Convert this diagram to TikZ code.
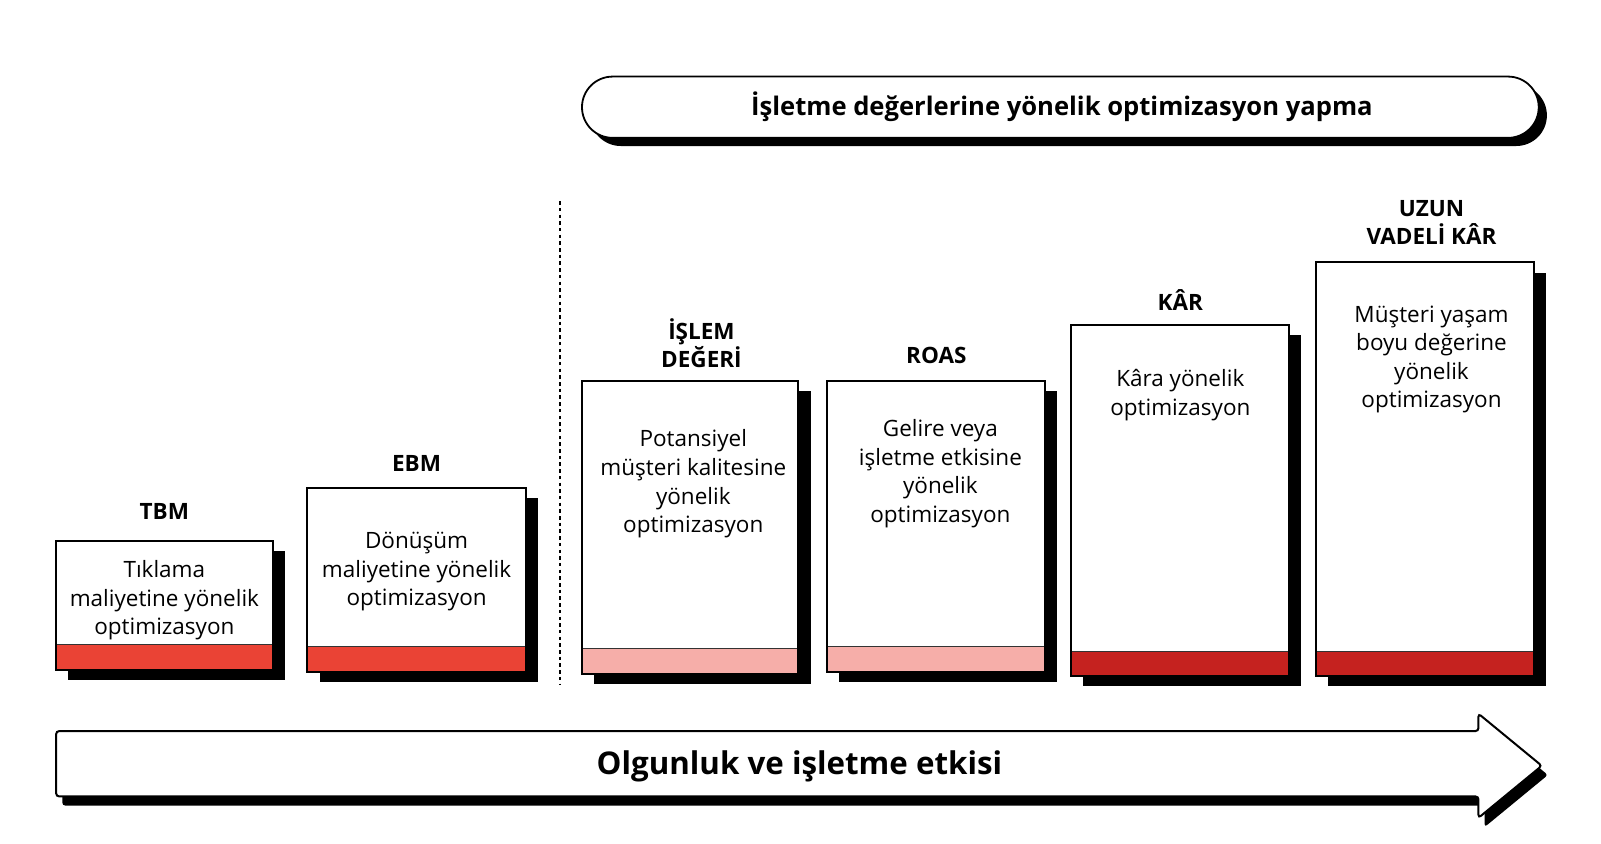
\documentclass[tikz,border=0pt]{standalone}
\usepackage{fontspec}
\setmainfont{Open Sans}
\usetikzlibrary{fit}
\definecolor{bandred}{HTML}{EA4335}
\definecolor{bandpink}{HTML}{F6AEA9}
\definecolor{banddark}{HTML}{C5221F}
\tikzset{
  stageframe/.style={draw=black, line width=2pt, fill=white, inner sep=0pt, outer sep=0pt},
  bandline/.style={draw=black!80, line width=0.8pt},
  headtext/.style={font=\bfseries\fontsize{22.5}{28.6}\selectfont, align=center, inner sep=0pt},
  bodytext/.style={font=\fontsize{22.5}{28.6}\selectfont, align=center, inner sep=0pt},
  shadowfill/.style={fill=black},
  dotline/.style={line width=2pt, black, dash pattern=on 3.5pt off 3.2pt}
}
\newcommand\mkstage[6]{%
  \fill[shadowfill] (#2+12,-#3-10) rectangle (#4+12,-#5-10);
  \node[stageframe, fit={(#2,-#3) (#4,-#5)}] (#1) {};
  \filldraw[bandline, fill=#6] (#1.south west) rectangle ([shift={(0,24.5)}]#1.south east);
  \draw[line width=2pt] (#1.south west) rectangle (#1.north east);
}
\begin{document}
\begin{tikzpicture}[x=1.02105pt,y=1.02105pt]
\useasboundingbox (0,0) rectangle (1568,-826.6);
\fill[white] (0,0) rectangle (1568,-826.6);

% banner
\fill[shadowfill, rounded corners=30.6pt] (578,-83) rectangle (1515,-143);
\node[draw=black, line width=1.8pt, fill=white, rounded corners=30.6pt, inner sep=0pt, outer sep=0pt, fit={(570,-75) (1507,-135)}] (banner) {};
\node[font=\bfseries\fontsize{25.6}{30}\selectfont, inner sep=0pt] (bannertext) at (1040,-105) {İşletme değerlerine yönelik optimizasyon yapma};

% dotted separator
\coordinate (septop) at (548,-197);
\coordinate (sepbot) at (548,-670);
\draw[dotline] (septop) -- (sepbot);

% stages
\mkstage{s1}{55}{530}{267}{656}{bandred}
\mkstage{s2}{301}{478}{515}{658}{bandred}
\mkstage{s3}{570}{373}{782}{660}{bandpink}
\mkstage{s4}{810}{373}{1023}{658}{bandpink}
\mkstage{s5}{1049}{318}{1262}{662}{banddark}
\mkstage{s6}{1289}{257}{1502}{662}{banddark}

% headings
\node[headtext] (h1) at (161,-501) {TBM};
\node[headtext] (h2) at (408,-454) {EBM};
\node[headtext] (h3) at (687,-336) {İŞLEM\\DEĞERİ};
\node[headtext] (h4) at (917,-348) {ROAS};
\node[headtext] (h5) at (1156,-294) {KÂR};
\node[headtext] (h6) at (1402,-218) {UZUN\\VADELİ KÂR};

% body texts
\node[bodytext] (t1) at (161,-588) {Tıklama\\maliyetine yönelik\\optimizasyon};
\node[bodytext] (t2) at (408,-560) {Dönüşüm\\maliyetine yönelik\\optimizasyon};
\node[bodytext] (t3) at (679,-474) {Potansiyel\\müşteri kalitesine\\yönelik\\optimizasyon};
\node[bodytext] (t4) at (921,-464) {Gelire veya\\işletme etkisine\\yönelik\\optimizasyon};
\node[bodytext] (t5) at (1156,-387) {Kâra yönelik\\optimizasyon};
\node[bodytext] (t6) at (1402,-352) {Müşteri yaşam\\boyu değerine\\yönelik\\optimizasyon};

% bottom arrow
\fill[shadowfill, rounded corners=3pt, shift={(6,-9)}] (55,-716) -- (1448,-716) -- (1448,-699) -- (1510,-750) -- (1448,-801) -- (1448,-780) -- (55,-780) -- cycle;
\filldraw[fill=white, draw=black, line width=2pt, rounded corners=3pt] (55,-716) -- (1448,-716) -- (1448,-699) -- (1510,-750) -- (1448,-801) -- (1448,-780) -- (55,-780) -- cycle;
\node[font=\bfseries\fontsize{31.3}{36}\selectfont, inner sep=0pt] (arrowtext) at (783,-751) {Olgunluk ve işletme etkisi};
\end{tikzpicture}
\end{document}
